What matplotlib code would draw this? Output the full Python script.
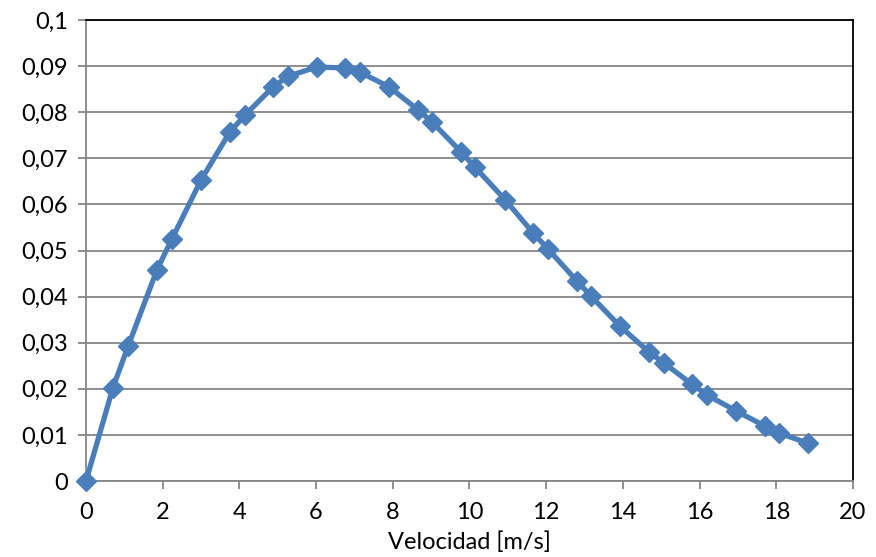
import matplotlib
matplotlib.use("Agg")
import matplotlib.pyplot as plt
from matplotlib.ticker import FuncFormatter

# Wind speed distribution samples
velocidad = [0.0, 0.70, 1.10, 1.85, 2.24, 3.00, 3.75, 4.15, 4.88, 5.27, 6.02,
             6.75, 7.14, 7.90, 8.66, 9.02, 9.78, 10.14, 10.93, 11.66, 12.05,
             12.80, 13.17, 13.92, 14.68, 15.07, 15.80, 16.19, 16.95, 17.71,
             18.07, 18.83]
frecuencia = [0.0, 0.0202, 0.0293, 0.0458, 0.0525, 0.0653, 0.0757, 0.0794,
              0.0855, 0.0878, 0.0898, 0.0896, 0.0887, 0.0855, 0.0805, 0.0779,
              0.0714, 0.0681, 0.0610, 0.0538, 0.0503, 0.0434, 0.0401, 0.0336,
              0.0280, 0.0256, 0.0210, 0.0187, 0.0152, 0.0119, 0.0104, 0.0082]

x_ticks = list(range(0, 21, 2))
y_ticks = [i / 100 for i in range(0, 11)]

plt.rcParams['font.family'] = ['Lato', 'DejaVu Sans']

fig = plt.figure(figsize=(8.76, 5.57), dpi=100)
ax = fig.add_axes([0.0982, 0.1364, 0.8755, 0.8277])

ax.plot(velocidad, frecuencia, color='#4A7EBB', linewidth=3.8,
        marker='D', markersize=10.5, markerfacecolor='#4A7EBB',
        markeredgecolor='#4A7EBB', clip_on=False, zorder=3)

ax.set_xlim(0, 20)
ax.set_ylim(0, 0.1)
ax.set_xticks(x_ticks)
ax.set_yticks(y_ticks)

def fmt_y(v, pos):
    if abs(v) < 1e-12:
        return '0'
    s = ('%.2f' % v).rstrip('0')
    return s.replace('.', ',')

ax.yaxis.set_major_formatter(FuncFormatter(fmt_y))
ax.grid(axis='y', color='#868686', linewidth=1.3)
ax.set_axisbelow(True)

for side in ('left', 'bottom'):
    ax.spines[side].set_color('#868686')
    ax.spines[side].set_linewidth(1.3)
for side in ('top', 'right'):
    ax.spines[side].set_color('black')
    ax.spines[side].set_linewidth(1.3)

ax.tick_params(axis='both', direction='out', length=6, width=1.3,
               color='#868686', labelsize=17, labelcolor='black')
ax.tick_params(axis='x', pad=9)
ax.tick_params(axis='y', pad=7)

ax.set_xlabel('Velocidad [m/s]', fontsize=17, labelpad=6)

fig.savefig('out.png', dpi=100)
